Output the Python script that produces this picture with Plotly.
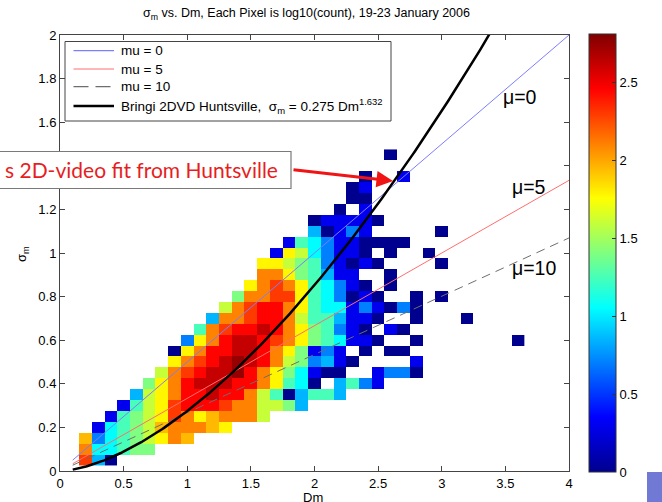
import numpy as np
import plotly.graph_objects as go

# ---------------- data ----------------
# Dm bin centres (mm) and sigma_m bin centres (mm)
dm_bins = [round(0.1 * i, 2) for i in range(1, 37)]
sigma_bins = [round(0.05 * j, 2) for j in range(1, 30)]

# for every sigma_m row: index (1-based) of the first Dm bin, then log10(count) values
row_first_bin = [2, 2, 2, 3, 4, 5, 6, 7, 8, 9, 9, 10, 11, 12, 13, 14, 15, 16, 16, 17,
                 18, 20, 20, 22, 23, 23, 24, 1, 26]
row_log_counts = [
    [2.3, 0.85, 0],
    [2.1, 1.05, 1.05, 1.25, 1.4, 1.4],
    [1.95, 0.7, 1.05, 1.25, 1.4, 1.6, 1.78, 2.1, 1.95],
    [0.3, 1.05, 1.25, 1.4, 1.6, 1.95, 2.1, 2.1, 2.1, 1.95, 1.78],
    [0.3, 1.25, 1.4, 1.6, 1.78, 2.3, 2.1, 1.78, 1.95, 2.1, 2.1, 2.1, 1.6],
    [0.3, 1.25, 1.6, 1.78, 2.3, 2.45, 2.45, 2.45, 2.3, 2.1, 2.1, 1.6, 1.6, 1.4, 0.85],
    [0.85, 1.6, 1.78, 2.1, 2.45, 2.45, 2.62, 2.45, 2.45, 2.1, 1.6, 1.25, 0, 0.85, 1.25, 1.25, 0.85],
    [1.4, 1.78, 2.1, 2.45, 2.62, 2.62, 2.62, 2.45, 2.45, 2.1, 1.78, 1.25, 1.05, 0, None, 0.85, 1.25, 0.7, 0.3],
    [1.6, 2.1, 2.3, 2.45, 2.62, 2.62, 2.75, 2.45, 2.1, 1.78, 1.4, 1.05, 0.3, 0, 0, None, None, 0.3, 0.7, 0.7, 0],
    [1.78, 2.1, 2.3, 2.45, 2.62, 2.75, 2.62, 2.45, 2.1, 1.6, 1.4, 0.7, 0.85, 0.3, 0, None, None, None, None, 0.3],
    [0, 1.78, 2.1, 2.45, 2.45, 2.62, 2.62, 2.45, 2.1, 1.78, 1.4, 0.3, 0.7, 0.3, None, 0, None, 0, 0],
    [0.7, 1.78, 2.1, 2.45, 2.62, 2.62, 2.45, 2.3, 2.1, 1.78, 1.4, 1.25, 1.05, 0.3, 0.3, 0, None, None, 0,
     None, None, None, None, None, None, None, 0],
    [1.25, 2.1, 2.3, 2.45, 2.45, 2.62, 2.45, 2.1, 1.78, 1.4, 1.25, 0.7, 0.3, 0, None, 0.3, 0],
    [0.85, 2.1, 2.1, 2.3, 2.45, 2.45, 2.1, 1.6, 1.25, 1.25, 0.85, 0.3, 0.3, 0, None, None, 0, None, None, None, 0],
    [1.6, 2.1, 2.3, 2.45, 2.45, 2.1, 1.78, 1.25, 1.05, 1.05, 0.3, 0.7, 0.3, 0, 0.7, 0],
    [1.4, 2.1, 2.1, 2.3, 2.3, 1.78, 1.25, 1.05, 0.7, 0, 0.3, 0, None, None, 0, None, 0],
    [1.78, 2.1, 2.3, 2.1, 1.78, 1.25, 1.05, 0.7, 0.3, 0, None, 0],
    [2.1, 2.1, 1.78, 1.4, 1.25, 0.85, 0.3, 0.3, None, None, 0],
    [1.78, 1.78, 1.6, 1.4, 1.25, 0.7, 0.3, 0, 0.3, 0, None, None, None, None, 0],
    [0.3, 1.78, 1.6, 1.05, 0.7, 0.3, 0.3, 0, None, 0, None, None, 0],
    [0.3, 1.25, 1.05, 0.7, 0.3, 0.3, 0, 0, 0, 0],
    [0.85, 0, 0.3, 0.7, 0.3, None, None, None, None, None, 0],
    [0, 0.3, 0.3, 0.3, 0.3, 0],
    [0, None, 0.3],
    [0, 0],
    [0, 0.3],
    [0, None, None, 0.3],
    [],
    [0],
]

# model curves: gamma DSD sigma_m = Dm / sqrt(4 + mu), Bringi fit sigma_m = a * Dm^b
mu_values = [0, 5, 10]
mu_names = ["mu = 0", "mu = 5", "mu = 10"]
fit_name = "Bringi 2DVD Huntsville,  σ<sub>m</sub> = 0.275 Dm<sup>1.632</sup>"
fit_coef = 0.275
fit_exp = 1.632
dm_curve_range = [0.1, 4.0]

cbar_ticks = [0, 0.5, 1, 1.5, 2, 2.5]
x_ticks = [0, 0.5, 1, 1.5, 2, 2.5, 3, 3.5, 4]
y_ticks = [0, 0.2, 0.4, 0.6, 0.8, 1, 1.2, 1.4, 1.6, 1.8, 2]

# ---------------- build grid ----------------
z = [[None] * len(dm_bins) for _ in sigma_bins]
for j, (start, vals) in enumerate(zip(row_first_bin, row_log_counts)):
    for k, v in enumerate(vals):
        if v is not None:
            z[j][start - 1 + k] = v

jet = [[0, "rgb(0,0,143)"], [0.125, "rgb(0,0,255)"], [0.375, "rgb(0,255,255)"],
       [0.625, "rgb(255,255,0)"], [0.875, "rgb(255,0,0)"], [1, "rgb(128,0,0)"]]

FONT = "Liberation Sans, Arial, sans-serif"
W, H = 662, 502
ML, MR, MT, MB = 60, 93, 35, 31
PW, PH = W - ML - MR, H - MT - MB


def px(xp):
    return (xp - ML) / PW


def py(yp):
    return (H - MB - yp) / PH


fig = go.Figure()
fig.add_trace(go.Heatmap(
    x=dm_bins, y=sigma_bins, z=z, zmin=0, zmax=2.81, colorscale=jet,
    hoverongaps=False, showlegend=False,
    colorbar=dict(x=px(589), xanchor="left", xpad=0, y=0.5, yanchor="middle",
                  len=1.005, lenmode="fraction", thickness=27, ypad=0,
                  outlinecolor="#333333", outlinewidth=1,
                  tickvals=cbar_ticks, ticks="inside", ticklen=4, tickcolor="#333333",
                  tickfont=dict(family=FONT, size=13, color="black")),
))

dm_line = np.linspace(dm_curve_range[0], dm_curve_range[1], 300)
mu_colors = ["rgb(125,125,255)", "rgb(255,110,110)", "rgb(110,110,110)"]
mu_dashes = ["solid", "solid", "9px,6px"]
for mu, name, col, dsh in zip(mu_values, mu_names, mu_colors, mu_dashes):
    fig.add_trace(go.Scatter(x=dm_line, y=dm_line / np.sqrt(4 + mu), mode="lines",
                             name=name, line=dict(color=col, width=1, dash=dsh),
                             hoverinfo="skip", showlegend=False))
fig.add_trace(go.Scatter(x=dm_line, y=fit_coef * dm_line ** fit_exp, mode="lines",
                         name=fit_name, line=dict(color="black", width=2.5),
                         hoverinfo="skip", showlegend=False))

axis_common = dict(showline=True, linecolor="#444444", linewidth=1, mirror="ticks",
                   ticks="inside", ticklen=5, tickcolor="#444444", showgrid=False,
                   zeroline=False, tickfont=dict(family=FONT, size=13, color="black"))
fig.update_xaxes(range=[0, 4], tickvals=x_ticks, **axis_common)
fig.update_yaxes(range=[0, 2], tickvals=y_ticks, **axis_common)

annotations = [
    dict(xref="paper", yref="paper", x=px(306), y=py(14),
         text="σ<sub>m</sub> vs. Dm, Each Pixel is log10(count), 19-23 January 2006",
         showarrow=False, font=dict(family=FONT, size=12.5, color="black"), xanchor="center", yanchor="middle"),
    dict(xref="paper", yref="paper", x=px(313), y=py(497.5), text="Dm",
         showarrow=False, font=dict(family=FONT, size=13, color="black"), xanchor="center", yanchor="middle"),
    dict(xref="paper", yref="paper", x=px(23), y=py(254), text="σ<sub>m</sub>", textangle=-90,
         showarrow=False, font=dict(family=FONT, size=13, color="black"), xanchor="center", yanchor="middle"),
    dict(xref="paper", yref="paper", x=px(501), y=py(97), text="μ=0", showarrow=False,
         font=dict(family=FONT, size=19.5, color="black"), xanchor="left", yanchor="middle"),
    dict(xref="paper", yref="paper", x=px(510), y=py(187), text="μ=5", showarrow=False,
         font=dict(family=FONT, size=19.5, color="black"), xanchor="left", yanchor="middle"),
    dict(xref="paper", yref="paper", x=px(510), y=py(268), text="μ=10", showarrow=False,
         font=dict(family=FONT, size=19.5, color="black"), xanchor="left", yanchor="middle"),
    # red call-out text
    dict(xref="paper", yref="paper", x=px(280), y=py(169), text="s 2D-video fit from Huntsville",
         showarrow=False, font=dict(family="Lato, Open Sans, sans-serif", size=21, color="rgb(230,30,30)"),
         xanchor="right", yanchor="middle"),
    # red arrow
    dict(xref="x", yref="y", axref="x", ayref="y",
         x=(393 - ML) / PW * 4, y=(H - MB - 181) / PH * 2,
         ax=(292 - ML) / PW * 4, ay=(H - MB - 169.5) / PH * 2,
         text="", showarrow=True, arrowcolor="rgb(240,20,20)", arrowwidth=3,
         arrowhead=2, arrowsize=1.1, standoff=0, startstandoff=0),
]

shapes = [
    dict(type="rect", xref="paper", yref="paper", x0=px(-2), x1=px(291), y0=py(188.5), y1=py(151.5),
         fillcolor="white", line=dict(color="#7a7a7a", width=1.2), layer="above"),
    dict(type="rect", xref="paper", yref="paper", x0=px(647), x1=px(664), y0=py(504), y1=py(472),
         fillcolor="rgb(112,122,212)", line=dict(width=0), layer="above"),
    # legend frame
    dict(type="rect", xref="paper", yref="paper", x0=px(65), x1=px(391), y0=py(121), y1=py(41.5),
         fillcolor="white", line=dict(color="#444444", width=1), layer="above"),
]

# legend entries (drawn by hand to match the MATLAB legend spacing)
legend_names = mu_names + [fit_name]
legend_colors = mu_colors + ["black"]
legend_dashes = ["solid", "solid", "15px,7px", "solid"]
legend_widths = [1.2, 1.2, 1.2, 2.5]
legend_rows_y = [50.7, 69.0, 86.7, 106.0]
for name, col, dsh, lw, yy in zip(legend_names, legend_colors, legend_dashes, legend_widths, legend_rows_y):
    shapes.append(dict(type="line", xref="paper", yref="paper", x0=px(73.5), x1=px(114), y0=py(yy), y1=py(yy),
                       line=dict(color=col, width=lw, dash=dsh), layer="above"))
    annotations.append(dict(xref="paper", yref="paper", x=px(118.5), y=py(yy), text=name, showarrow=False,
                            font=dict(family=FONT, size=13.5, color="black"), xanchor="left", yanchor="middle"))

fig.update_layout(
    width=W, height=H, margin=dict(l=ML, r=MR, t=MT, b=MB),
    paper_bgcolor="white", plot_bgcolor="white",
    font=dict(family=FONT, size=12, color="black"),
    showlegend=False,
    annotations=annotations, shapes=shapes,
)

fig.write_html("out.html", config={"displayModeBar": False},
               post_script="document.body.style.margin='0px';document.body.style.overflow='hidden';")
